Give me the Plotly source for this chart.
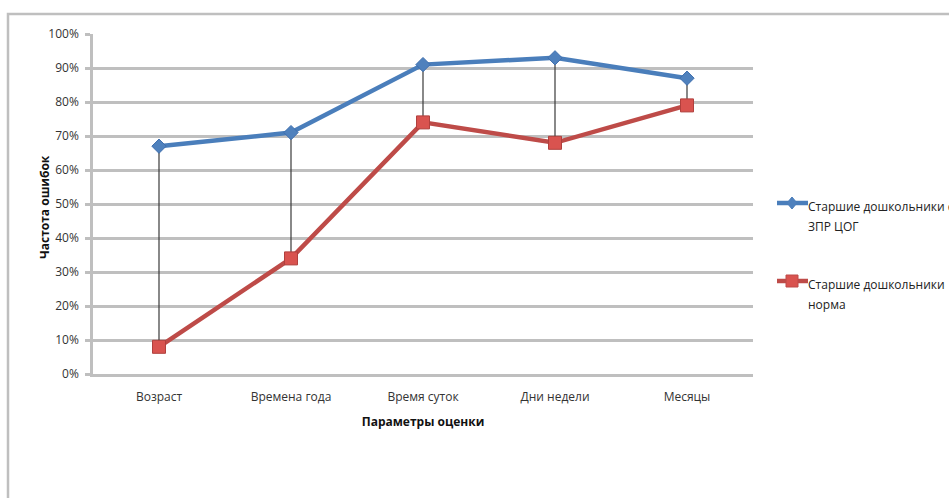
import plotly.graph_objects as go

# Параметры оценки и частота ошибок по группам
categories = ["Возраст", "Времена года", "Время суток", "Дни недели", "Месяцы"]
zpr_cog = [0.67, 0.71, 0.91, 0.93, 0.87]
norm = [0.08, 0.34, 0.74, 0.68, 0.79]
series_names = ["Старшие дошкольники с ЗПР ЦОГ", "Старшие дошкольники норма"]
y_ticks = [i / 10 for i in range(11)]

W, H = 949, 498
L, R, T, B = 93, 196, 34, 124
PW, PH = W - L - R, H - T - B

BLUE = "#4a7ebb"
RED = "#be4b48"
GRID = "#bfbfbf"
FONT = "Open Sans, Liberation Sans, sans-serif"


def px(x):
    return (x - L) / PW


def py(y):
    return (H - B - y) / PH


fig = go.Figure()

# вертикальные линии между значениями групп
drop_x, drop_y = [], []
for c, a, b in zip(categories, zpr_cog, norm):
    drop_x += [c, c, None]
    drop_y += [a, b, None]
fig.add_trace(go.Scatter(x=drop_x, y=drop_y, mode="lines",
                         line=dict(color="#3a3a3a", width=1.2),
                         hoverinfo="skip", showlegend=False))

fig.add_trace(go.Scatter(x=categories, y=zpr_cog, name=series_names[0],
                         mode="lines+markers",
                         line=dict(color=BLUE, width=4.5),
                         marker=dict(symbol="diamond", size=11, color="#4f81bd",
                                     line=dict(color="#3f6fae", width=1)),
                         showlegend=False))
fig.add_trace(go.Scatter(x=categories, y=norm, name=series_names[1],
                         mode="lines+markers",
                         line=dict(color=RED, width=4.5),
                         marker=dict(symbol="square", size=13, color="#d9534f",
                                     line=dict(color="#b0403d", width=1)),
                         showlegend=False))

shapes = []
# рамка области диаграммы
shapes.append(dict(type="path", xref="paper", yref="paper",
                   path=f"M {px(8)},{py(H + 10)} L {px(8)},{py(14)} L {px(W + 10)},{py(14)}",
                   line=dict(color=GRID, width=2.5)))

annotations = []
# подпись оси Y
annotations.append(dict(x=px(44), y=py(207), xref="paper", yref="paper",
                        text="<b>Частота ошибок</b>", textangle=-90, showarrow=False,
                        xanchor="center", yanchor="middle",
                        font=dict(family=FONT, size=12, color="#111111")))

# легенда
legend_items = [(203, BLUE, "#4f81bd", "diamond", [series_names[0][:-8], "ЗПР ЦОГ"]),
                (281, RED, "#d9534f", "square", ["Старшие дошкольники", "норма"])]
for ly, lc, mc, sym, lines in legend_items:
    shapes.append(dict(type="line", xref="paper", yref="paper",
                       x0=px(777), x1=px(808), y0=py(ly), y1=py(ly),
                       line=dict(color=lc, width=4.5)))
    cx = 792
    if sym == "diamond":
        path = (f"M {px(cx - 5)},{py(ly)} L {px(cx)},{py(ly - 6)} "
                f"L {px(cx + 5)},{py(ly)} L {px(cx)},{py(ly + 6)} Z")
    else:
        path = (f"M {px(cx - 6)},{py(ly - 6)} L {px(cx + 6)},{py(ly - 6)} "
                f"L {px(cx + 6)},{py(ly + 6)} L {px(cx - 6)},{py(ly + 6)} Z")
    shapes.append(dict(type="path", xref="paper", yref="paper", path=path,
                       fillcolor=mc, line=dict(color=lc, width=1)))
    for i, t in enumerate(lines):
        annotations.append(dict(x=px(806), y=py(ly + 3 + 20 * i), xref="paper", yref="paper",
                                text=t, showarrow=False, xanchor="left", yanchor="middle",
                                font=dict(family=FONT, size=12, color="#222222")))

fig.update_layout(
    width=W, height=H,
    margin=dict(l=L, r=R, t=T, b=B, pad=0),
    paper_bgcolor="white", plot_bgcolor="white",
    showlegend=False,
    shapes=shapes, annotations=annotations,
    font=dict(family=FONT, size=12, color="#333333"),
    xaxis=dict(type="category", range=[-0.5, 4.5], showgrid=False,
               showline=True, linecolor=GRID, linewidth=2.5,
               ticks="", ticklabelstandoff=10,
               tickfont=dict(size=12, color="#333333"),
               title=dict(text="<b>Параметры оценки</b>", standoff=14,
                          font=dict(size=12, color="#111111")),
               fixedrange=True),
    yaxis=dict(range=[0, 1], tickvals=y_ticks, tickformat=".0%",
               showgrid=True, gridcolor=GRID, gridwidth=2.5,
               showline=True, linecolor=GRID, linewidth=2.5,
               ticks="outside", ticklen=5, tickcolor=GRID, tickwidth=2.5,
               ticklabelstandoff=4,
               tickfont=dict(size=12, color="#333333"),
               zeroline=False, fixedrange=True),
)

fig.write_html("out.html")
